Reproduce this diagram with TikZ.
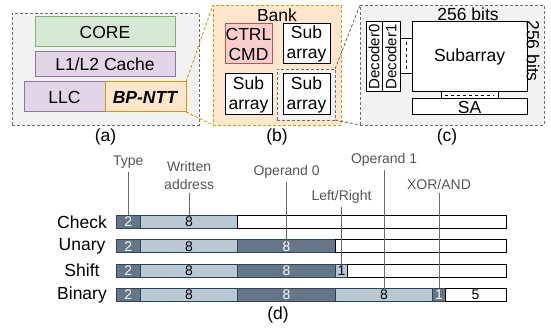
\documentclass[tikz,border=0pt]{standalone}
\usepackage{fontspec}
\setmainfont{Liberation Sans}
\usepackage{tikz}
\usetikzlibrary{arrows,positioning}

\definecolor{panelfill}{HTML}{F2F2F2}
\definecolor{paneldraw}{HTML}{6E6E6E}
\definecolor{corefill}{HTML}{D5E8D4}
\definecolor{coredraw}{HTML}{82B366}
\definecolor{cachefill}{HTML}{E1D5E7}
\definecolor{cachedraw}{HTML}{9673A6}
\definecolor{nttfill}{HTML}{FFE6CC}
\definecolor{nttdraw}{HTML}{D79B00}
\definecolor{ctrlfill}{HTML}{F8CECC}
\definecolor{ctrldraw}{HTML}{B85450}
\definecolor{slatefill}{HTML}{647687}
\definecolor{slatedraw}{HTML}{314354}
\definecolor{bluefill}{HTML}{BAC8D3}
\definecolor{bluedraw}{HTML}{23445D}
\definecolor{tagtext}{HTML}{555555}
\definecolor{tagline}{HTML}{6A6A6A}

\newcommand{\bitw}{12.1875pt}

\begin{document}
\begin{tikzpicture}[x=1pt, y=-1pt,
    every node/.style={inner sep=0pt, outer sep=0pt, font=\fontsize{17.5}{20}\selectfont, align=center},
    panel/.style={draw=paneldraw, fill=panelfill, dash pattern=on 3pt off 2pt, line width=0.9pt},
    unit/.style={draw, line width=1pt},
    field/.style={draw, line width=0.8pt, minimum height=13pt, font=\fontsize{14}{14}\selectfont},
    darkf/.style={field, fill=slatefill, draw=slatedraw, text=white},
    lightf/.style={field, fill=bluefill, draw=bluedraw},
    freef/.style={field, fill=white, draw=black},
    tag/.style={text=tagtext, font=\fontsize{14}{18}\selectfont},
    guide/.style={draw=tagline, line width=0.9pt, shorten <=3.5pt}]
	\useasboundingbox (0,0) rectangle (551,328);

	% (a) processor
	\node[panel, minimum width=187, minimum height=112] (framea) at (105.5,69) {};
	\node[unit, fill=corefill, draw=coredraw, minimum width=140, minimum height=30] (core) at (105,32) {CORE};
	\node[unit, fill=cachefill, draw=cachedraw, minimum width=140, minimum height=25] (cache) at (105,64.5) {L1/L2 Cache};
	\node[unit, fill=cachefill, draw=cachedraw, minimum width=81, minimum height=30] (llc) at (64.5,97) {LLC};
	\node[unit, fill=nttfill, draw=nttdraw, minimum width=81, minimum height=30] (bpntt) at (145.5,97) {\textbf{\textit{BP-NTT}}};
	\node (capa) at (105.5,137) {(a)};

	% (b) bank
	\node[panel, fill=nttfill, draw=nttdraw, minimum width=128, minimum height=120] (bank) at (277,65) {};
	\node (banktxt) at (277,15) {Bank};
	\node[unit, fill=ctrlfill, draw=ctrldraw, minimum width=47, minimum height=40] (ctrl) at (248.5,44) {CTRL\\CMD};
	\node[unit, fill=white, minimum width=47, minimum height=40] (suba) at (306.5,44) {Sub\\array};
	\node[unit, fill=white, minimum width=47, minimum height=41] (subb) at (248.5,94.5) {Sub\\array};
	\node[panel, minimum width=58, minimum height=51] (pick) at (306,94.5) {};
	\node[unit, fill=white, minimum width=47, minimum height=41] (subc) at (306.5,94.5) {Sub\\array};
	\node (capb) at (277,137) {(b)};
	\draw[draw=nttdraw, dash pattern=on 3pt off 2pt, line width=0.9pt] (bpntt.north east) -- (bank.north west);
	\draw[draw=nttdraw, dash pattern=on 3pt off 2pt, line width=0.9pt] (bpntt.south east) -- (bank.south west);

	% (c) subarray
	\node[panel, minimum width=184, minimum height=120] (framec) at (452,65) {};
	\draw[draw=paneldraw, dash pattern=on 3pt off 2pt, line width=0.9pt] (pick.north east) -- (framec.north west);
	\draw[draw=paneldraw, dash pattern=on 3pt off 2pt, line width=0.9pt] (pick.south east) -- (framec.south west);
	\node[unit, fill=white, rotate=90, minimum width=70, minimum height=16, font=\fontsize{15}{15}\selectfont] (dec0) at (374,57) {Decoder0};
	\node[unit, fill=white, rotate=90, minimum width=70, minimum height=18, font=\fontsize{15}{15}\selectfont] (dec1) at (391,57) {Decoder1};
	\node[unit, fill=white, minimum width=12, minimum height=35] (rowlink) at (406,56.5) {};
	\draw[dashed, line width=0.9pt, shorten <=3pt, shorten >=3pt] (rowlink.north) -- (rowlink.south);
	\node[unit, fill=white, minimum width=115, minimum height=70] (array) at (469.5,57) {Subarray};
	\node[unit, fill=white, minimum width=57, minimum height=7] (collink) at (469.5,95.5) {};
	\draw[dashed, line width=0.9pt, shorten <=4pt, shorten >=4pt] (collink.west) -- (collink.east);
	\node[unit, fill=white, minimum width=115, minimum height=16] (sa) at (469.5,107) {SA};
	\node (colbits) at (468,14.5) {256 bits};
	\node[rotate=-90] (rowbits) at (533,51) {256 bits};
	\node (capc) at (447,137) {(c)};

	% (d) instruction formats
	\node (rcheck) at (82,222) {Check};
	\node (runary) at (82,246.3) {Unary};
	\node (rshift) at (82,270.6) {Shift};
	\node (rbinary) at (82,295) {Binary};

	\node[darkf, minimum width=2*\bitw, anchor=west] (c1) at (116,222) {2};
	\node[lightf, minimum width=8*\bitw, right=0pt of c1] (c2) {8};
	\node[freef, minimum width=22*\bitw, right=0pt of c2] (c3) {};

	\node[darkf, minimum width=2*\bitw, anchor=west] (u1) at (116,246.3) {2};
	\node[lightf, minimum width=8*\bitw, right=0pt of u1] (u2) {8};
	\node[darkf, minimum width=8*\bitw, right=0pt of u2] (u3) {8};
	\node[freef, minimum width=14*\bitw, right=0pt of u3] (u4) {};

	\node[darkf, minimum width=2*\bitw, anchor=west] (s1) at (116,270.6) {2};
	\node[lightf, minimum width=8*\bitw, right=0pt of s1] (s2) {8};
	\node[darkf, minimum width=8*\bitw, right=0pt of s2] (s3) {8};
	\node[lightf, minimum width=\bitw, right=0pt of s3] (s4) {1};
	\node[freef, minimum width=13*\bitw, right=0pt of s4] (s5) {};

	\node[darkf, minimum width=2*\bitw, anchor=west] (b1) at (116,295) {2};
	\node[lightf, minimum width=8*\bitw, right=0pt of b1] (b2) {8};
	\node[darkf, minimum width=8*\bitw, right=0pt of b2] (b3) {8};
	\node[lightf, minimum width=8*\bitw, right=0pt of b3] (b4) {8};
	\node[darkf, minimum width=\bitw, right=0pt of b4] (b5) {1};
	\node[freef, minimum width=5*\bitw, right=0pt of b5] (b6) {5};

	\node[tag] (ltype) at (c1 |- 0,162) {Type};
	\node[tag] (laddr) at (c2 |- 0,175) {Written\\address};
	\node[tag] (lop0) at (u3 |- 0,172) {Operand 0};
	\node[tag] (lop1) at (b4 |- 0,160) {Operand 1};
	\node[tag] (ldir) at (s4 |- 0,197) {Left/Right};
	\node[tag] (lmode) at (b5 |- 0,184) {XOR/AND};
	\draw[guide] (ltype.south) -- (c1.north);
	\draw[guide] (laddr.south) -- (c2.north);
	\draw[guide] (lop0.south) -- ([yshift=-3pt]u3.north);
	\draw[guide] (lop1.south) -- ([yshift=-2pt]b4.north);
	\draw[guide] (ldir.south) -- (s4.north);
	\draw[guide] (lmode.south) -- (b5.north);
	\node (capd) at (278,315) {(d)};
\end{tikzpicture}
\end{document}
